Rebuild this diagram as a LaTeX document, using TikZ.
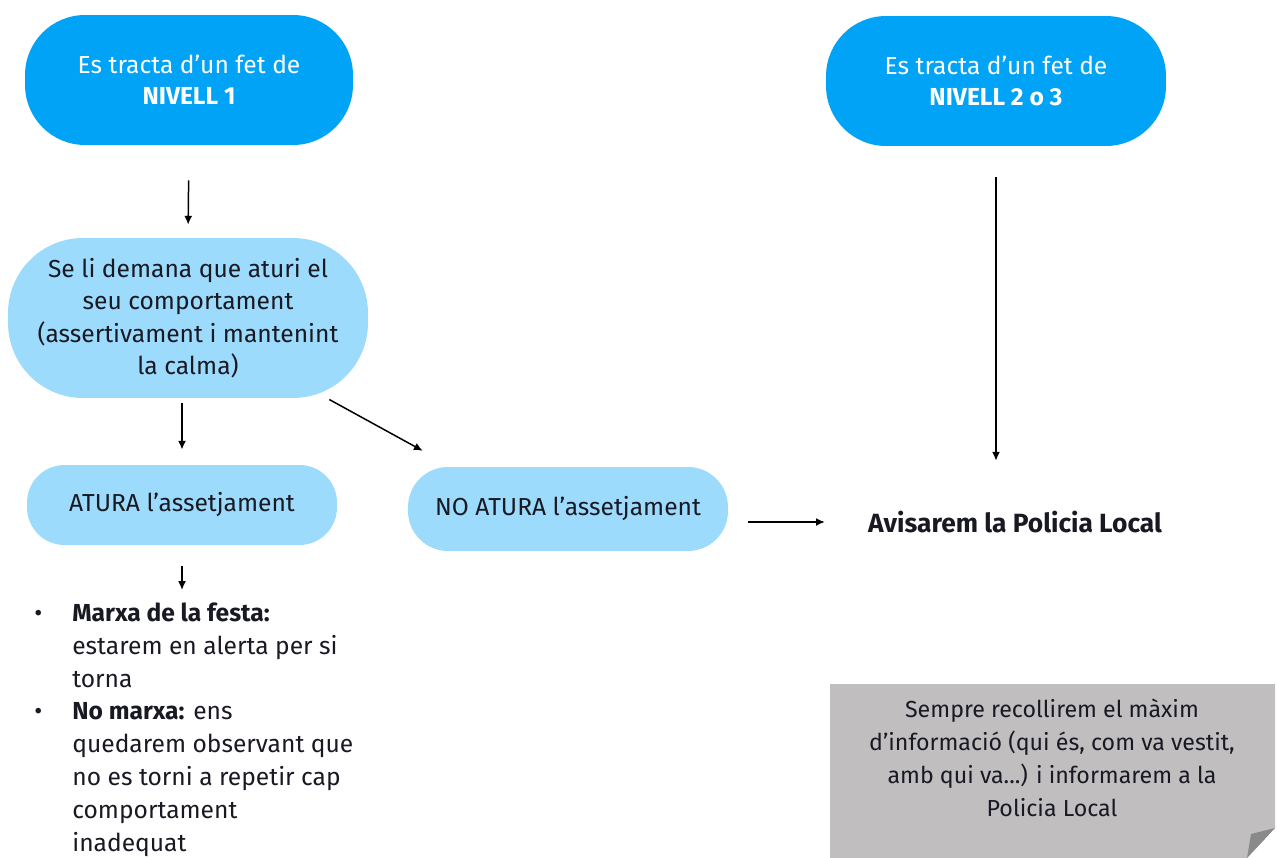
\documentclass[tikz,border=0pt]{standalone}
\usepackage{fontspec}
\setmainfont{Fira Sans}
\usetikzlibrary{arrows.meta,positioning}

\definecolor{darkblue}{RGB}{0,163,245}
\definecolor{lightblue}{RGB}{157,219,252}
\definecolor{notegray}{RGB}{192,190,191}
\definecolor{foldgray}{RGB}{138,138,138}
\definecolor{ink}{RGB}{25,25,35}

\tikzset{
  levelbox/.style={fill=darkblue, text=white, rounded corners=1.2cm, align=center,
    minimum height=2.6cm, font=\fontsize{14}{17.6}\selectfont},
  stepbox/.style={fill=lightblue, text=ink, align=center, font=\fontsize{14}{18.5}\selectfont},
  plain/.style={text=ink, inner sep=0pt, font=\fontsize{14}{18.7}\selectfont},
  arr/.style={-{Latex[length=5pt,width=4.5pt]}, line width=0.85pt},
}

\begin{document}
\begin{tikzpicture}[x=0.02cm,y=-0.02cm]
    \useasboundingbox (0,0) rectangle (1277,858);
    % the two levels
    \node[levelbox, minimum width=6.56cm] (lvlone) at (189,80) {Es tracta d’un fet de\\\textbf{NIVELL 1}};
    \node[levelbox, minimum width=6.8cm] (lvltwo) at (996,81) {Es tracta d’un fet de\\\textbf{NIVELL 2 o 3}};
    % level 1 branch
    \node[stepbox, minimum width=7.2cm, minimum height=3.2cm, rounded corners=1.5cm] (ask) at (188,318)
        {Se li demana que aturi el\\seu comportament\\(assertivament i mantenint\\la calma)};
    \node[stepbox, minimum width=6.2cm, minimum height=1.6cm, rounded corners=0.75cm] (atura) at (182,505)
        {ATURA l’assetjament};
    \node[stepbox, minimum width=6.4cm, minimum height=1.68cm, rounded corners=0.8cm] (noatura) at (568,509)
        {NO ATURA l’assetjament};
    \node[plain, font=\fontsize{15}{18.7}\selectfont\bfseries] (avisar) at (1015,522) {Avisarem la Policia Local};
    \node[plain, anchor=north west] (list) at (34,598) {%
        \begin{tabular}{@{}p{0.76cm}@{}l@{}}
        \textbullet & \textbf{Marxa de la festa:}\\
                    & estarem en alerta per si\\
                    & torna\\
        \textbullet & \textbf{No marxa:} ens\\
                    & quedarem observant que\\
                    & no es torni a repetir cap\\
                    & comportament\\
                    & inadequat
        \end{tabular}};
    % note
    \fill[notegray] (830,684) -- (1275,684) -- (1275,828) -- (1247,858) -- (830,858) -- cycle;
    \fill[foldgray] (1275,828) -- (1251,834) -- (1247,858) -- cycle;
    \node[plain, align=center, font=\fontsize{13.2}{18.7}\selectfont] (info) at (1052,758)
        {Sempre recollirem el màxim\\d’informació (qui és, com va vestit,\\amb qui va...) i informarem a la\\Policia Local};
    % arrows
    \draw[arr, shorten <=0.7cm, shorten >=0.26cm] (lvlone.south) -- (ask.north);
    \draw[arr, shorten <=0.1cm, shorten >=0.3cm] (ask.south -| atura.north) -- (atura.north);
    \draw[arr, shorten <=0.05cm, shorten >=0.66cm] (ask.-30) -- (noatura.160);
    \draw[arr, shorten <=0.4cm, shorten >=0.86cm] (noatura.east |- avisar.west) -- (avisar.west);
    \draw[arr, shorten <=0.62cm, shorten >=1cm] (lvltwo.south) -- (lvltwo.south |- avisar.north);
    \draw[arr, shorten <=0.42cm, shorten >=0.16cm] (atura.south) -- (atura.south |- list.north);
\end{tikzpicture}
\end{document}
